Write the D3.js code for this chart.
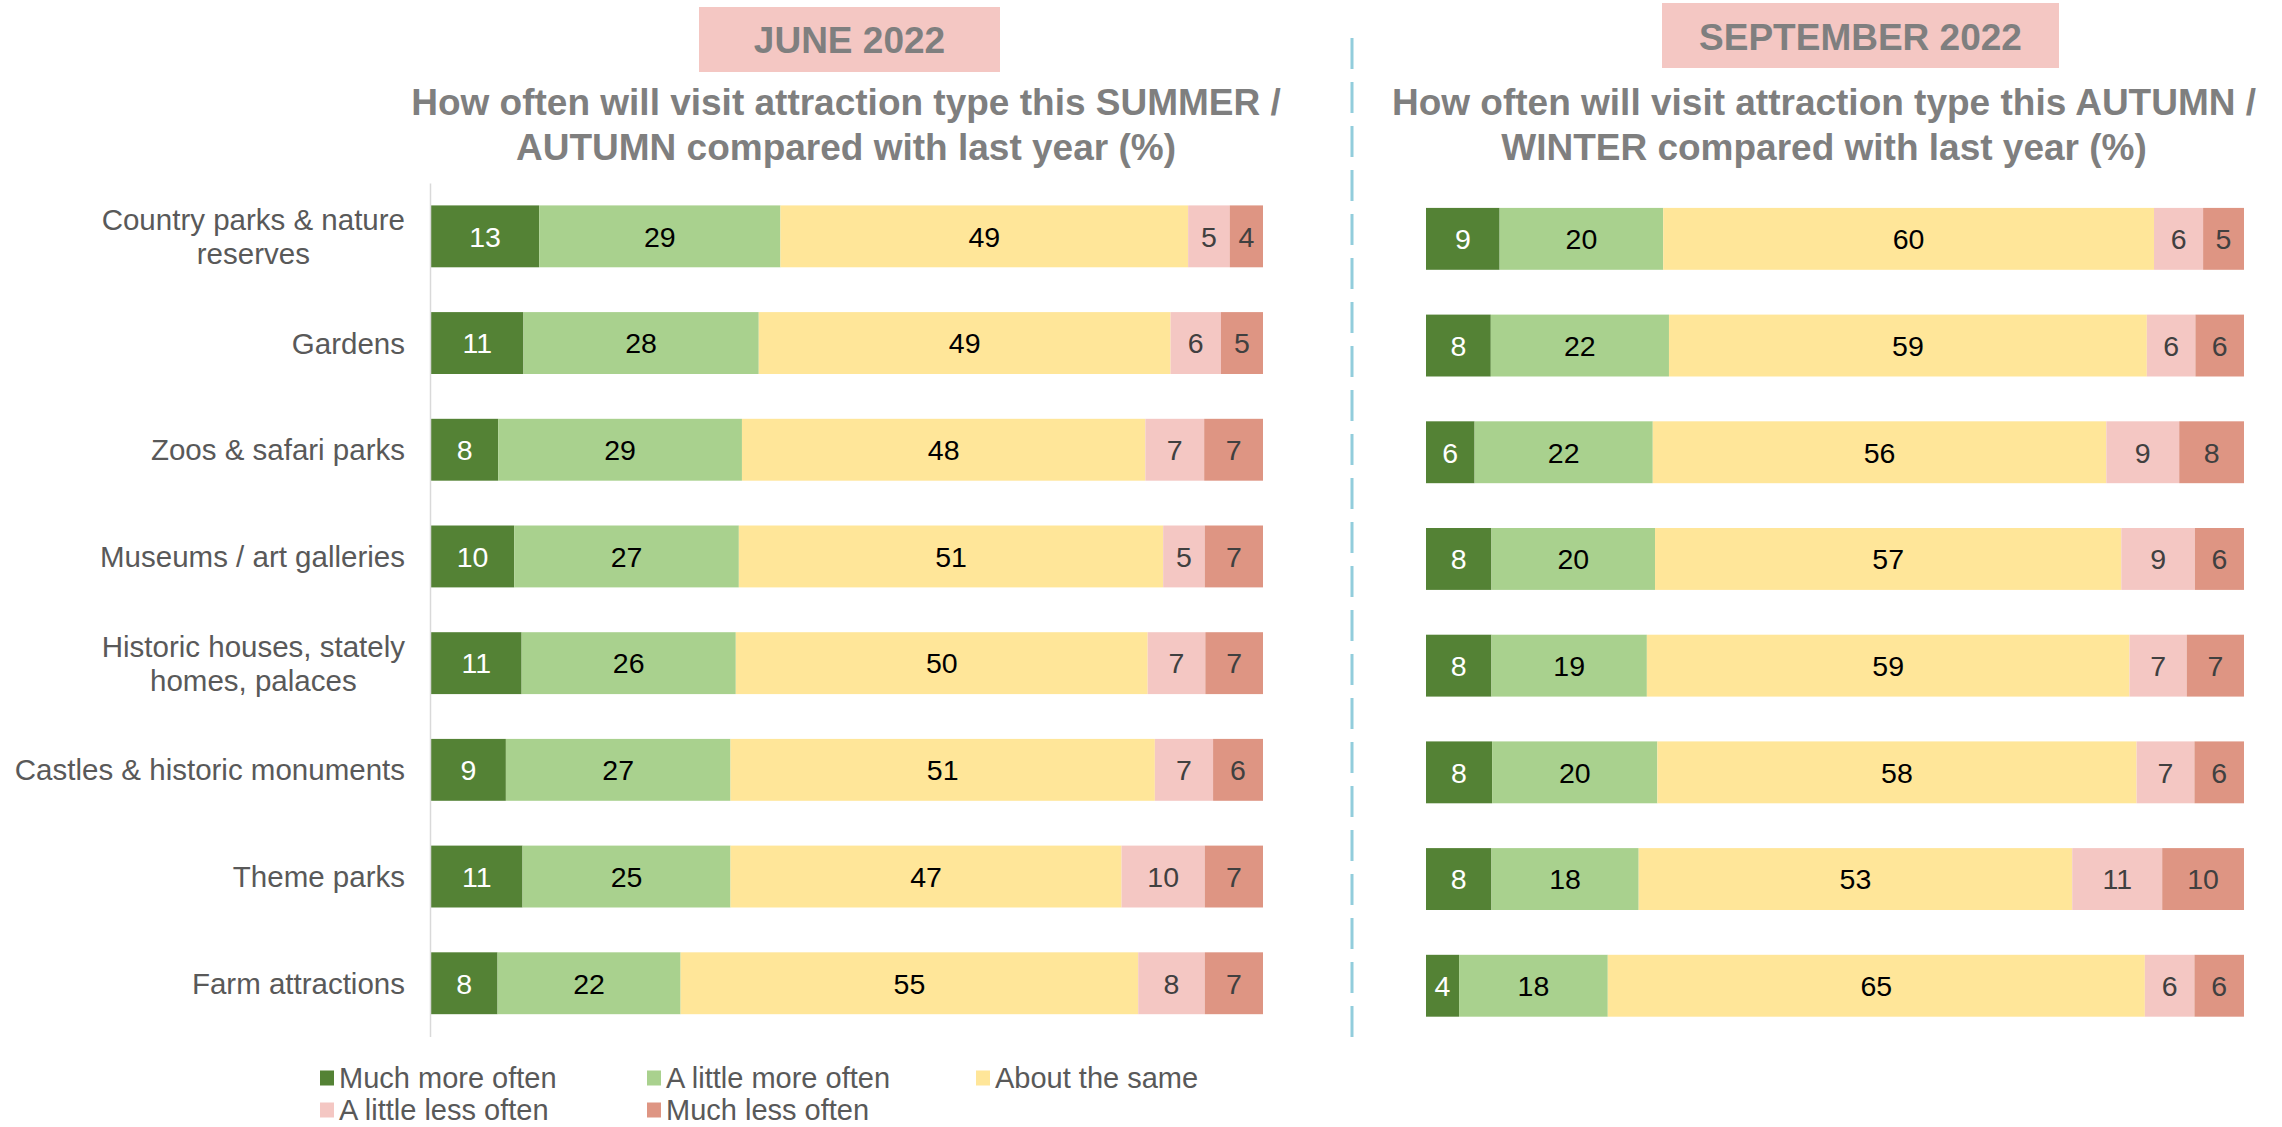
<!DOCTYPE html>
<html>
<head>
<meta charset="utf-8">
<script src="https://cdn.jsdelivr.net/npm/d3@7"></script>
<style>
  html, body { margin: 0; padding: 0; background: #ffffff; }
  svg { display: block; font-family: Arial, "Liberation Sans", sans-serif; }
</style>
</head>
<body>
<svg id="chart" width="2282" height="1127"></svg>
<script>
// Attraction types (rows, top to bottom)
const categories = [
  "Country parks & nature reserves",
  "Gardens",
  "Zoos & safari parks",
  "Museums / art galleries",
  "Historic houses, stately homes, palaces",
  "Castles & historic monuments",
  "Theme parks",
  "Farm attractions"
];

const seriesNames = ["Much more often", "A little more often", "About the same", "A little less often", "Much less often"];
const seriesColors = ["#548235", "#A9D18E", "#FFE699", "#F4C7C3", "#DE9583"];
const labelColors = ["#FFFFFF", "#000000", "#000000", "#404040", "#404040"];

// June 2022 (summer / autumn), %
const juneMuchMore   = [13, 11, 8, 10, 11, 9, 11, 8];
const juneLittleMore = [29, 28, 29, 27, 26, 27, 25, 22];
const juneSame       = [49, 49, 48, 51, 50, 51, 47, 55];
const juneLittleLess = [5, 6, 7, 5, 7, 7, 10, 8];
const juneMuchLess   = [4, 5, 7, 7, 7, 6, 7, 7];

// September 2022 (autumn / winter), %
const septMuchMore   = [9, 8, 6, 8, 8, 8, 8, 4];
const septLittleMore = [20, 22, 22, 20, 19, 20, 18, 18];
const septSame       = [60, 59, 56, 57, 59, 58, 53, 65];
const septLittleLess = [6, 6, 9, 9, 7, 7, 11, 6];
const septMuchLess   = [5, 6, 8, 6, 7, 6, 10, 6];

const panelHeaders = ["JUNE 2022", "SEPTEMBER 2022"];
const panelTitles = [
  ["How often will visit attraction type this SUMMER /", "AUTUMN compared with last year (%)"],
  ["How often will visit attraction type this AUTUMN /", "WINTER compared with last year (%)"]
];

const svg = d3.select("#chart");
svg.append("rect").attr("width", 2282).attr("height", 1127).attr("fill", "#fff");

function buildRows(cols) {
  return categories.map((c, i) => {
    const row = { category: c };
    seriesNames.forEach((s, k) => { row[s] = cols[k][i]; });
    return row;
  });
}

const panels = [
  {
    rows: buildRows([juneMuchMore, juneLittleMore, juneSame, juneLittleLess, juneMuchLess]),
    x0: 431, x1: 1263, y0: 183, y1: 1036.6,
    headerBox: [699, 7, 301, 65], headerBaseline: 53,
    titleX: 846, showAxis: true
  },
  {
    rows: buildRows([septMuchMore, septLittleMore, septSame, septLittleLess, septMuchLess]),
    x0: 1426, x1: 2244, y0: 185.5, y1: 1039.1,
    headerBox: [1662, 3, 397, 65], headerBaseline: 50,
    titleX: 1824, showAxis: false
  }
];

const stack = d3.stack().keys(seriesNames).offset(d3.stackOffsetExpand);

panels.forEach((p, pi) => {
  const x = d3.scaleLinear().domain([0, 1]).range([p.x0, p.x1]);
  const y = d3.scaleBand().domain(categories).range([p.y0, p.y1])
    .paddingInner(0.42).paddingOuter(0.21);

  // Period header box
  const hb = p.headerBox;
  svg.append("rect")
    .attr("x", hb[0]).attr("y", hb[1]).attr("width", hb[2]).attr("height", hb[3])
    .attr("fill", "#F4C7C3");
  svg.append("text")
    .attr("x", hb[0] + hb[2] / 2).attr("y", p.headerBaseline)
    .attr("text-anchor", "middle")
    .attr("font-size", 37).attr("font-weight", "bold").attr("fill", "#7F7F7F")
    .text(panelHeaders[pi]);

  // Panel title (two lines)
  panelTitles[pi].forEach((line, li) => {
    svg.append("text")
      .attr("x", p.titleX).attr("y", 115 + li * 45)
      .attr("text-anchor", "middle")
      .attr("font-size", 37).attr("font-weight", "bold").attr("fill", "#7F7F7F")
      .text(line);
  });

  const series = stack(p.rows);

  const g = svg.append("g");
  const layers = g.selectAll("g.layer").data(series).join("g")
    .attr("class", "layer")
    .attr("fill", (d, k) => seriesColors[k]);

  layers.selectAll("rect").data(d => d.map(v => ({ v, key: d.key }))).join("rect")
    .attr("x", d => x(d.v[0]))
    .attr("width", d => x(d.v[1]) - x(d.v[0]))
    .attr("y", d => y(d.v.data.category))
    .attr("height", y.bandwidth());

  // Value labels centred in each segment
  series.forEach((s, k) => {
    g.selectAll(null).data(s).join("text")
      .attr("x", d => (x(d[0]) + x(d[1])) / 2)
      .attr("y", d => y(d.data.category) + y.bandwidth() / 2)
      .attr("dy", "0.36em")
      .attr("text-anchor", "middle")
      .attr("font-size", 28.5)
      .attr("fill", labelColors[k])
      .text(d => d.data[s.key]);
  });

  if (p.showAxis) {
    const axis = svg.append("g")
      .attr("transform", `translate(${p.x0 - 1},0)`)
      .call(d3.axisLeft(y).tickSize(0).tickSizeOuter(0).tickFormat(""));
    axis.select(".domain").attr("stroke", "#D9D9D9").attr("stroke-width", 1.5);

    // Category labels, wrapped and centred within their block, block right-aligned
    const labelRight = 405;
    const fs = 29.5;
    categories.forEach(c => {
      const cy = y(c) + y.bandwidth() / 2;
      const t = svg.append("text").attr("font-size", fs).attr("fill", "#595959");
      const words = c.split(" ");
      const lines = [];
      let cur = [];
      words.forEach(w => {
        cur.push(w);
        t.text(cur.join(" "));
        if (t.node().getComputedTextLength() > 398 && cur.length > 1) {
          cur.pop();
          lines.push(cur.join(" "));
          cur = [w];
        }
      });
      lines.push(cur.join(" "));
      t.text(null);
      const widths = lines.map(l => { t.text(l); return t.node().getComputedTextLength(); });
      t.text(null);
      const maxW = d3.max(widths);
      const lh = 34;
      lines.forEach((l, li) => {
        t.append("tspan")
          .attr("x", labelRight - maxW / 2)
          .attr("y", cy + (li - (lines.length - 1) / 2) * lh)
          .attr("dy", "0.36em")
          .attr("text-anchor", "middle")
          .text(l);
      });
    });
  }
});

// Dashed divider between the two periods
svg.append("line")
  .attr("x1", 1352).attr("x2", 1352).attr("y1", 38).attr("y2", 1038)
  .attr("stroke", "#92CDDC").attr("stroke-width", 3)
  .attr("stroke-dasharray", "31,13");

// Legend
const legendPos = [
  [320, 1078], [647, 1078], [976, 1078],
  [320, 1110], [647, 1110]
];
const legend = svg.append("g");
seriesNames.forEach((s, k) => {
  const [lx, ly] = legendPos[k];
  legend.append("rect")
    .attr("x", lx).attr("y", ly - 7.5).attr("width", 14).attr("height", 15)
    .attr("fill", seriesColors[k]);
  legend.append("text")
    .attr("x", lx + 19).attr("y", ly).attr("dy", "0.36em")
    .attr("font-size", 29).attr("fill", "#595959")
    .text(s);
});
</script>
</body>
</html>
